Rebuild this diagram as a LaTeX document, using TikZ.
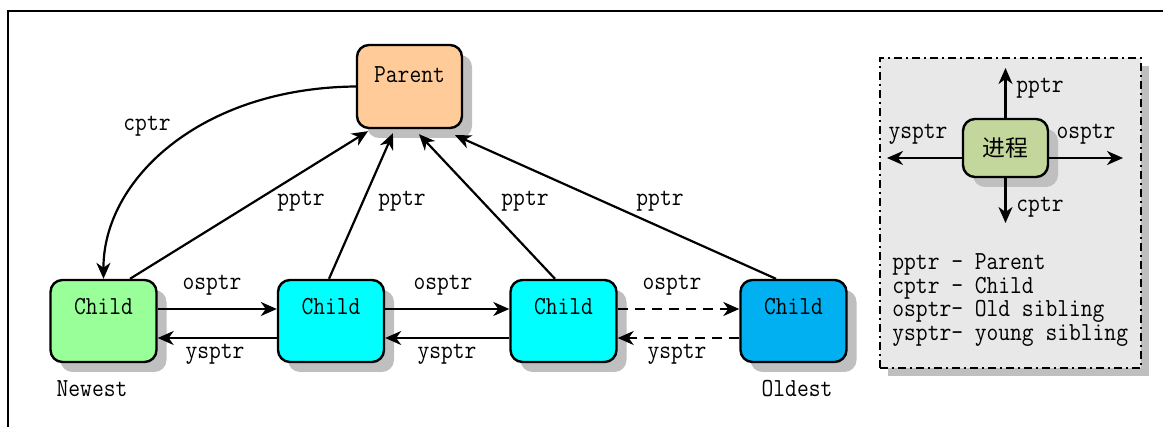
\documentclass[tikz,border=0pt]{standalone}
\usepackage{fontspec}
\newfontfamily\cjk{Noto Sans CJK SC}
\newfontfamily\monof[FakeStretch=0.88]{Latin Modern Mono}
\usetikzlibrary{arrows.meta,shadows,calc}
\definecolor{parentc}{HTML}{FFCC99}
\definecolor{newc}{HTML}{99FF99}
\definecolor{midc}{HTML}{00FFFF}
\definecolor{oldc}{HTML}{00B0F0}
\definecolor{procc}{HTML}{C3D69B}
\definecolor{legc}{HTML}{E8E8E8}
\begin{document}
\begin{tikzpicture}[x=0.5pt,y=-0.5pt,
  font=\monof\fontsize{13}{15.6}\selectfont,
  box/.style={draw,line width=1.2pt,rounded corners=6pt,inner sep=0pt,
     drop shadow={shadow xshift=5pt,shadow yshift=-5pt,fill=black!25,opacity=1}},
  childbox/.style={box,minimum width=53pt,text height=17.5pt,text depth=23.5pt},
  ptr/.style={line width=1.1pt,-{Stealth[length=8pt,width=7pt,inset=2.5pt]}},
  dptr/.style={ptr,dash pattern=on 5pt off 3.5pt},
  lbl/.style={inner sep=0pt,anchor=base}
]
\useasboundingbox (0,0) rectangle (1163,427);
\draw[line width=1pt] (8,427) -- (8,11) -- (1163,11);

% main nodes
\node[box,fill=parentc,minimum width=52.5pt,text height=19pt,text depth=22.5pt] (P) at (409.5,86.5) {Parent};
\node[childbox,fill=newc] (C1) at (103.5,321) {Child};
\node[childbox,fill=midc] (C2) at (331,321) {Child};
\node[childbox,fill=midc] (C3) at (563.5,321) {Child};
\node[childbox,fill=oldc] (C4) at (793.5,321) {Child};

% cptr
\draw[ptr] (P.west) .. controls (200,88) and (103,180) .. (C1.north);
\node[lbl] (lc) at (147,131) {cptr};

% pptr
\draw[ptr] ($(C1.north)+(26.5,0)$) -- ($(P.south)+(-41.5,2)$);
\draw[ptr] ($(C2.north)+(-2,0)$) -- ($(P.south)+(-16.5,4)$);
\draw[ptr] ($(C3.north)+(-8.5,0)$) -- ($(P.south)+(9.5,5)$);
\draw[ptr] ($(C4.north)+(-17.5,0)$) -- ($(P.south)+(45.5,6)$);
\node[lbl] (lp1) at (301,206) {pptr};
\node[lbl] (lp2) at (402,206) {pptr};
\node[lbl] (lp3) at (525,206) {pptr};
\node[lbl] (lp4) at (660,206) {pptr};

% sibling pointers
\draw[ptr] ($(C1.east)+(0,-12)$) -- ($(C2.west)+(0,-12)$);
\draw[ptr] ($(C2.west)+(0,17)$) -- ($(C1.east)+(0,17)$);
\draw[ptr] ($(C2.east)+(0,-12)$) -- ($(C3.west)+(0,-12)$);
\draw[ptr] ($(C3.west)+(0,17)$) -- ($(C2.east)+(0,17)$);
\draw[dptr] ($(C3.east)+(0,-12)$) -- ($(C4.west)+(0,-12)$);
\draw[dptr] ($(C4.west)+(0,17)$) -- ($(C3.east)+(0,17)$);
\node[lbl] (lo1) at (212,290) {osptr};
\node[lbl] (lo2) at (443,290) {osptr};
\node[lbl] (lo3) at (672,290) {osptr};
\node[lbl] (ly1) at (215,359) {ysptr};
\node[lbl] (ly2) at (447,359) {ysptr};
\node[lbl] (ly3) at (677,359) {ysptr};
\node[lbl] (nw) at (92,397) {Newest};
\node[lbl] (od) at (797,397) {Oldest};

% legend
\node[draw,fill=legc,line width=0.8pt,dash pattern=on 4pt off 2pt on 1pt off 2pt,
  minimum width=130.5pt,minimum height=155pt,inner sep=0pt,
  drop shadow={shadow xshift=4pt,shadow yshift=-4pt,fill=black!25,opacity=1}] (L) at (1010.5,213) {};
\node[box,fill=procc,minimum width=42.5pt,minimum height=29pt,font=\cjk\fontsize{11.4}{13.7}\selectfont] (G) at (1005.5,148) {进程};
\coordinate (gu) at (1005.5,68);
\coordinate (gd) at (1005.5,223);
\coordinate (gl) at (887,158);
\coordinate (gr) at (1123,158);
\draw[ptr] (G.north) -- (gu);
\draw[ptr] (G.south) -- (gd);
\draw[ptr] (G.west |- gl) -- (gl);
\draw[ptr] (G.east |- gr) -- (gr);
\node[lbl] (gpl) at (1040,93) {pptr};
\node[lbl] (gcl) at (1040,212) {cptr};
\node[lbl] (gyl) at (918,139) {ysptr};
\node[lbl] (gol) at (1086,139) {osptr};
\node[inner sep=0pt,anchor=base west] (t1) at (892,270) {pptr - Parent};
\node[inner sep=0pt,anchor=base west] (t2) at (892,293.5) {cptr - Child};
\node[inner sep=0pt,anchor=base west] (t3) at (892,317) {osptr- Old sibling};
\node[inner sep=0pt,anchor=base west] (t4) at (892,340.5) {ysptr- young sibling};
\end{tikzpicture}
\end{document}
